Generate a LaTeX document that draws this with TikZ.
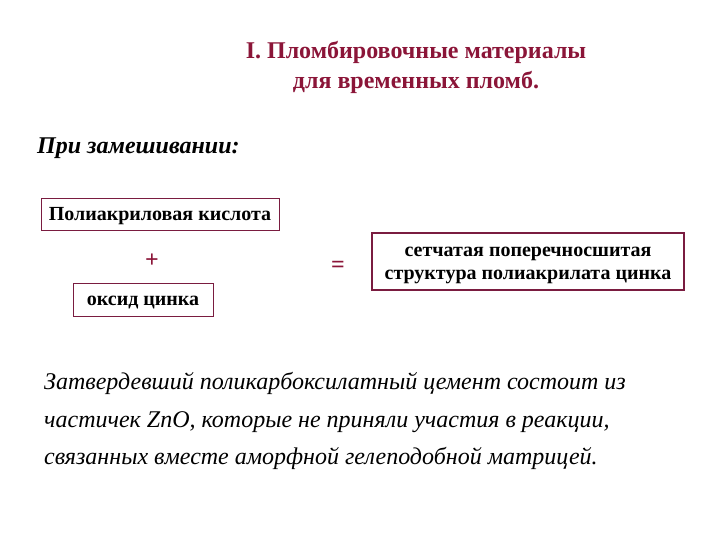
\documentclass[tikz,border=0pt]{standalone}
\usepackage{fontspec}
\setmainfont{Liberation Serif}
\definecolor{plomb}{HTML}{8B1538}
\definecolor{boxline}{HTML}{7A1C40}
\begin{document}
\begin{tikzpicture}[x=1pt,y=-1pt,
	box/.style={draw=boxline,line width=1pt,inner sep=0pt,text height=12pt,text depth=1pt,font=\bfseries\fontsize{20}{23}\selectfont},
	netbox/.style={draw=boxline,line width=2pt,inner sep=0pt},
	sign/.style={text=plomb,inner sep=0pt,font=\bfseries\fontsize{24}{24}\selectfont},
	note/.style={anchor=base west,inner sep=0pt,font=\itshape\fontsize{24}{28}\selectfont}]
		\useasboundingbox (0,0) rectangle (720,540);
		\node [align=center,text=plomb,font=\bfseries\fontsize{24}{30}\selectfont] (title) at (416,67) {I. Пломбировочные материалы\\для временных пломб.};
		\node [anchor=base west,inner sep=0pt,font=\bfseries\itshape\fontsize{24}{28}\selectfont] (mix) at (37,154) {При замешивании:};
		\node [box,minimum width=238,minimum height=32] (acid) at (160,215) {Полиакриловая кислота};
		\node [sign] (plus) at (152,261) {+};
		\node [box,minimum width=140,minimum height=33] (oxide) at (143,299.5) {оксид цинка};
		\node [sign] (equals) at (338,267) {=};
		\node [netbox,minimum width=312,minimum height=57] (net) at (528,261) {};
		\node [align=center,inner sep=0pt,font=\bfseries\fontsize{20}{23}\selectfont] (nettext) at ([yshift=-4pt]net.center) {сетчатая поперечносшитая\\структура полиакрилата цинка};
		\node [note] (line1) at (44,389) {Затвердевший поликарбоксилатный цемент состоит из};
		\node [note] (line2) at (44,427) {частичек ZnO, которые не приняли участия в реакции,};
		\node [note] (line3) at (44,464) {связанных вместе аморфной гелеподобной матрицей.};
	\end{tikzpicture}
\end{document}
